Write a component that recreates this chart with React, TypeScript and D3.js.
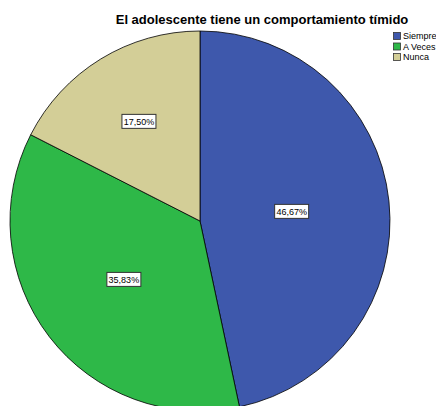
import React from "react";
import * as d3 from "d3";

const categories = ["Siempre", "A Veces", "Nunca"];
const values = [46.67, 35.83, 17.5];
const valueLabels = ["46,67%", "35,83%", "17,50%"];
const colors = ["#3E58AC", "#2EB848", "#D3CE97"];
const labelRadiusFrac = [0.485, 0.505, 0.615];

const W = 436;
const H = 406;
const cx = 200;
const cy = 221;
const R = 190;

export default function App() {
  const pie = d3.pie<number>().sort(null).value((d) => d);
  const arcs = pie(values);
  const arcGen = d3.arc<d3.PieArcDatum<number>>().innerRadius(0).outerRadius(R);

  return (
    <svg
      width={W}
      height={H}
      style={{ position: "absolute", left: 0, top: 0, background: "#fff" }}
      fontFamily="Arial, 'Liberation Sans', sans-serif"
    >
      <rect x={0} y={0} width={W} height={H} fill="#fff" />
      <text x={262} y={24} textAnchor="middle" fontSize={13} fontWeight="bold" fill="#000">
        El adolescente tiene un comportamiento tímido
      </text>
      <g transform={`translate(${cx},${cy})`}>
        {arcs.map((a, i) => (
          <path key={i} d={arcGen(a) || ""} fill={colors[i]} stroke="#000" strokeWidth={0.8} />
        ))}
        {arcs.map((a, i) => {
          const mid = (a.startAngle + a.endAngle) / 2;
          const r = R * labelRadiusFrac[i];
          const x = Math.sin(mid) * r;
          const y = -Math.cos(mid) * r;
          return (
            <g key={"l" + i} transform={`translate(${x},${y})`}>
              <rect x={-17} y={-7} width={34} height={14} fill="#fff" stroke="#333" strokeWidth={1} />
              <text x={0} y={3.3} textAnchor="middle" fontSize={9} fill="#000">
                {valueLabels[i]}
              </text>
            </g>
          );
        })}
      </g>
      <g transform="translate(393,32)">
        {categories.map((c, i) => (
          <g key={c} transform={`translate(0,${i * 10.5})`}>
            <rect x={0.5} y={0.5} width={7} height={7} fill={colors[i]} stroke="#333" strokeWidth={0.8} />
            <text x={10} y={7.2} fontSize={9} fill="#000">
              {c}
            </text>
          </g>
        ))}
      </g>
    </svg>
  );
}
